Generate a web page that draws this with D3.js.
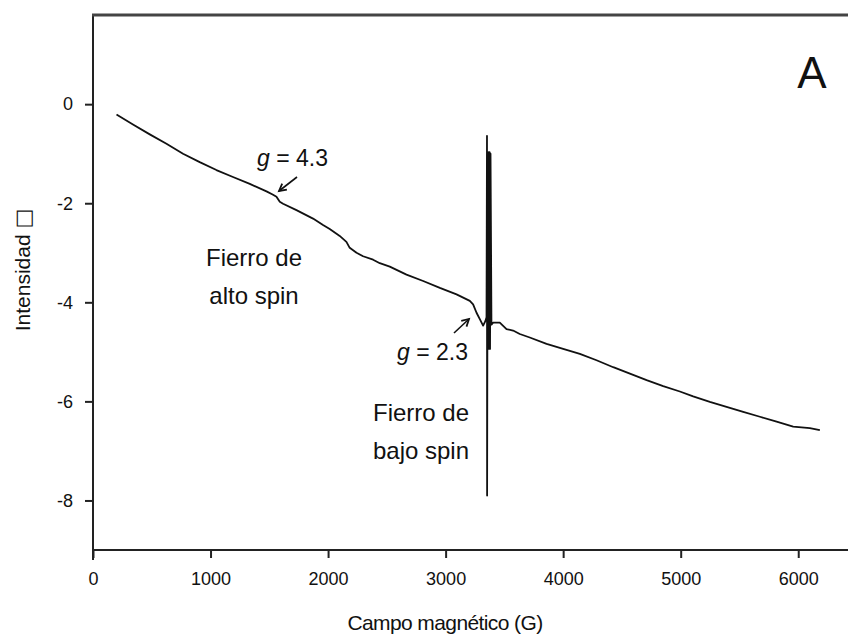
<!DOCTYPE html>
<html>
<head>
<meta charset="utf-8">
<script src="https://cdn.jsdelivr.net/npm/d3@7"></script>
<style>
  body { margin: 0; background: #fff; }
  svg { display: block; }
  text { font-family: "Liberation Sans", Arial, sans-serif; fill: #111; }
</style>
</head>
<body>
<svg id="chart" width="848" height="638"></svg>
<script>
// EPR spectrum: magnetic field (G) vs. intensity
const fieldG = [200, 340, 483, 625, 766, 908, 1050, 1191, 1334, 1476, 1532, 1561, 1589, 1617,
  1731, 1872, 1957, 2014, 2099, 2156, 2184, 2242, 2298, 2383, 2440, 2525, 2667, 2809, 2951,
  3093, 3206, 3234, 3263, 3291, 3319, 3338, 3348,
  3352, 3353, 3358, 3362, 3366, 3370, 3374, 3378, 3382,
  3390, 3404, 3461, 3518, 3574, 3631, 3716, 3859, 4000, 4142, 4284, 4426, 4568, 4710,
  4851, 4993, 5106, 5248, 5390, 5532, 5674, 5816, 5957, 6099, 6184];
const intensity = [-0.21, -0.41, -0.61, -0.80, -1.0, -1.17, -1.33, -1.47, -1.61, -1.76, -1.83, -1.87, -1.97, -2.01,
  -2.14, -2.31, -2.44, -2.52, -2.66, -2.78, -2.90, -3.0, -3.07, -3.14, -3.21, -3.28, -3.44, -3.57, -3.71,
  -3.84, -3.97, -4.04, -4.21, -4.34, -4.47, -4.38, -4.30,
  -0.64, -7.9, -0.97, -4.94, -0.97, -4.94, -0.97, -4.94, -1.0,
  -4.45, -4.41, -4.41, -4.54, -4.57, -4.64, -4.71, -4.84, -4.94, -5.04, -5.17, -5.31, -5.44, -5.57,
  -5.69, -5.80, -5.90, -6.01, -6.11, -6.21, -6.31, -6.41, -6.51, -6.54, -6.58];

const xTicks = [0, 1000, 2000, 3000, 4000, 5000, 6000];
const yTicks = [0, -2, -4, -6, -8];

const xTitle = "Campo magnético (G)";
const yTitle = "Intensidad ";
const yTitleBox = "\u25A1";
const panelLetter = "A";
const lowSpinLabel = ["Fierro de", "bajo spin"];
const highSpinLabel = ["Fierro de", "alto spin"];

const svg = d3.select("#chart");
const x = d3.scaleLinear().domain([0, 6500]).range([93, 857]);
const y = d3.scaleLinear().domain([-9, 1.8]).range([550, 15]);

// frame lines: left axis, bottom axis, top border
svg.append("line").attr("x1", 93).attr("x2", 93).attr("y1", 14).attr("y2", 560)
  .attr("stroke", "#222").attr("stroke-width", 2);
svg.append("line").attr("x1", 92).attr("x2", 848).attr("y1", y(-9)).attr("y2", y(-9))
  .attr("stroke", "#222").attr("stroke-width", 2);
svg.append("line").attr("x1", 92).attr("x2", 848).attr("y1", y(1.8)).attr("y2", y(1.8))
  .attr("stroke", "#444").attr("stroke-width", 3);

// axes (plain hyphen for negative numbers)
const fmt = d => String(d);
const yAxis = svg.append("g").attr("transform", "translate(93,0)")
  .call(d3.axisLeft(y).tickValues(yTicks).tickSize(8).tickSizeOuter(0).tickPadding(12)
    .tickFormat(fmt));
yAxis.select(".domain").remove();
yAxis.selectAll(".tick line").attr("stroke", "#222").attr("stroke-width", 2);
yAxis.selectAll(".tick text").style("font-size", "18px").attr("fill", "#111");

const xAxis = svg.append("g").attr("transform", `translate(0,${y(-9)})`)
  .call(d3.axisBottom(x).tickValues(xTicks).tickSize(8).tickSizeOuter(0).tickPadding(14)
    .tickFormat(fmt));
xAxis.select(".domain").remove();
xAxis.selectAll(".tick line").attr("stroke", "#222").attr("stroke-width", 2);
xAxis.selectAll(".tick text").style("font-size", "18px").attr("fill", "#111");

// axis titles
svg.append("text").attr("x", 445).attr("y", 630).attr("text-anchor", "middle")
  .style("font-size", "21px").style("letter-spacing", "-0.6px").text(xTitle);
const yt = svg.append("text").attr("transform", "translate(30,270) rotate(-90)")
  .attr("text-anchor", "middle").style("font-size", "21px");
yt.append("tspan").text(yTitle);
yt.append("tspan").style("font-family", "'DejaVu Sans'").style("fill", "#111").text(yTitleBox);

// spectrum trace
const pts = fieldG.map((g, i) => [g, intensity[i]]);
svg.append("path").datum(pts)
  .attr("fill", "none").attr("stroke", "#111").attr("stroke-width", 1.8)
  .attr("stroke-linejoin", "round")
  .attr("d", d3.line().x(d => x(d[0])).y(d => y(d[1])));

// panel letter
svg.append("text").attr("x", 812).attr("y", 88).attr("text-anchor", "middle")
  .style("font-size", "44px").text(panelLetter);

// g-value labels
function gLabel(px, py, val) {
  const t = svg.append("text").attr("x", px).attr("y", py).style("font-size", "23px");
  t.append("tspan").style("font-style", "italic").text("g");
  t.append("tspan").text(" = " + val);
}
gLabel(257, 166, "4.3");
gLabel(397, 360, "2.3");

function twoLine(cx, y0, lines) {
  lines.forEach((s, i) => {
    svg.append("text").attr("x", cx).attr("y", y0 + i * 38).attr("text-anchor", "middle")
      .style("font-size", "24px").text(s);
  });
}
twoLine(254, 266, highSpinLabel);
twoLine(421, 421, lowSpinLabel);

// arrows
function arrow(x1, y1, x2, y2) {
  const ang = Math.atan2(y2 - y1, x2 - x1);
  const h = 8, spread = 0.5;
  svg.append("line").attr("x1", x1).attr("y1", y1).attr("x2", x2).attr("y2", y2)
    .attr("stroke", "#111").attr("stroke-width", 1.6);
  const p = [
    [x2 - h * Math.cos(ang - spread), y2 - h * Math.sin(ang - spread)],
    [x2, y2],
    [x2 - h * Math.cos(ang + spread), y2 - h * Math.sin(ang + spread)]
  ];
  svg.append("path").attr("d", d3.line()(p)).attr("fill", "none")
    .attr("stroke", "#111").attr("stroke-width", 1.8);
}
arrow(297, 177, 279, 191);
arrow(454, 333, 469, 319);
</script>
</body>
</html>
